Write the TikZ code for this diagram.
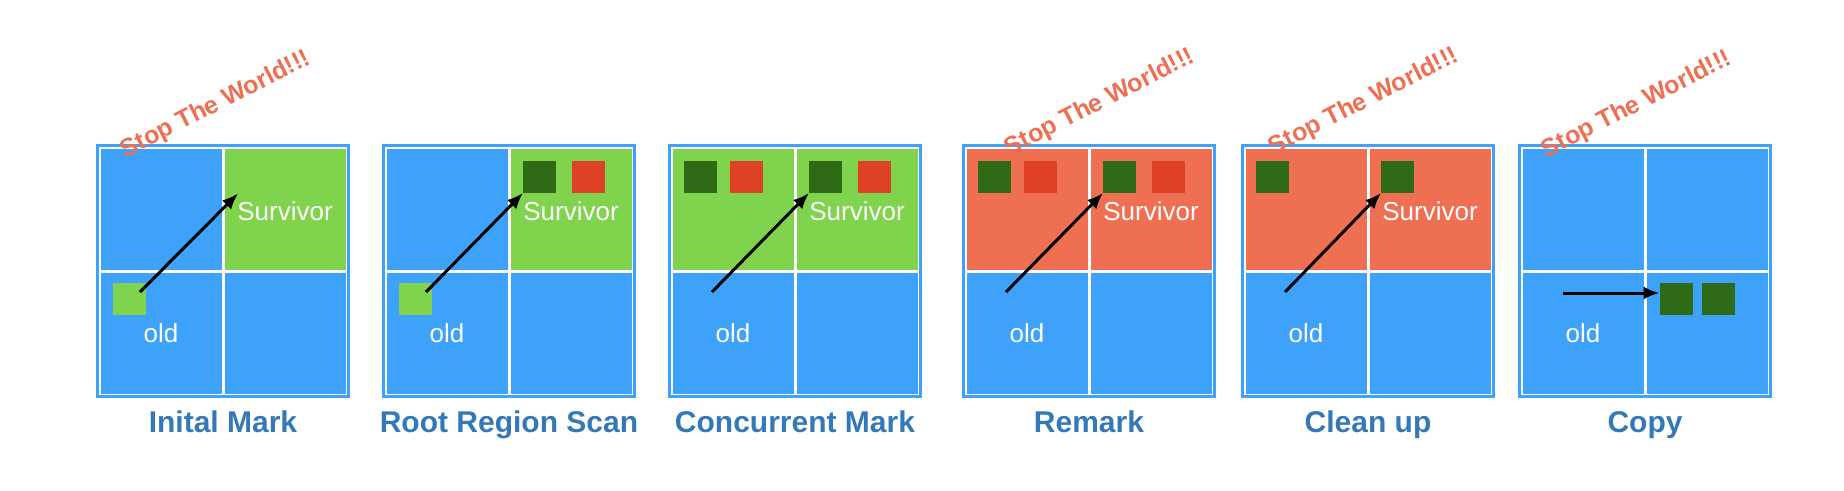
\documentclass[tikz,border=0pt]{standalone}
\usepackage{fontspec}
\setmainfont{Liberation Sans}
\usepackage{tikz}
\usetikzlibrary{arrows.meta, positioning}

\definecolor{regionblue}{HTML}{3EA2FB}
\definecolor{survgreen}{HTML}{80D34C}
\definecolor{livegreen}{HTML}{2F6B17}
\definecolor{deadred}{HTML}{DE4125}
\definecolor{remarkred}{HTML}{EF6F53}
\definecolor{titleblue}{HTML}{3478B8}

\begin{document}
\begin{tikzpicture}[
  x=1pt, y=-1pt,
  every node/.style={inner sep=0pt, outer sep=0pt},
  frame/.style={rectangle, draw=regionblue, line width=3pt, fill=white, minimum size=251pt},
  cell/.style={rectangle, fill=regionblue, minimum size=121pt},
  region text/.style={anchor=base, text=white, font=\fontsize{26}{30}\selectfont},
  obj/.style={rectangle, minimum width=33pt, minimum height=32pt},
  phase label/.style={anchor=base, text=titleblue, font=\fontsize{30}{34}\selectfont\bfseries},
  stw label/.style={text=remarkred, rotate=27, font=\fontsize{25}{30}\selectfont\bfseries},
  ref arrow/.style={draw, -{Latex[length=16pt, width=13pt]}, line width=3pt}
]
\useasboundingbox (0,0) rectangle (1844,490);

% Inital Mark
\begin{scope}[shift={(96,144)}]
  \node[frame] (im) at (127,127) {};
  \node[cell] (im-tl) at (65,65) {};
  \node[cell, fill=survgreen] (im-tr) at (189,65) {};
  \node[cell] (im-bl) at (65,189) {};
  \node[cell] (im-br) at (189,189) {};
  \node[region text] (im-surv) at (189,76) {Survivor};
  \node[region text] (im-old) at (65,198) {old};
  \node[obj, fill=survgreen] (im-src) at (33,154.5) {};
  \coordinate (im-from) at (44,148);
  \coordinate (im-to) at (142,49.5);
  \draw[ref arrow] (im-from) -- (im-to);
  \node[stw label] (im-stw) at (120,-39) {Stop The World!!!};
  \node[phase label] (im-name) at (127,288) {Inital Mark};
\end{scope}

% Root Region Scan
\begin{scope}[shift={(382,144)}]
  \node[frame] (rrs) at (127,127) {};
  \node[cell] (rrs-tl) at (65,65) {};
  \node[cell, fill=survgreen] (rrs-tr) at (189,65) {};
  \node[cell] (rrs-bl) at (65,189) {};
  \node[cell] (rrs-br) at (189,189) {};
  \node[region text] (rrs-surv) at (189,76) {Survivor};
  \node[region text] (rrs-old) at (65,198) {old};
  \node[obj, fill=livegreen] (rrs-live) at (157.5,33) {};
  \node[obj, fill=deadred] (rrs-dead) at (206,33) {};
  \node[obj, fill=survgreen] (rrs-src) at (33,154.5) {};
  \coordinate (rrs-from) at (44,148);
  \draw[ref arrow] (rrs-from) -- (rrs-live.south west);
  \node[phase label] (rrs-name) at (127,288) {Root Region Scan};
\end{scope}

% Concurrent Mark
\begin{scope}[shift={(668,144)}]
  \node[frame] (cm) at (127,127) {};
  \node[cell, fill=survgreen] (cm-tl) at (65,65) {};
  \node[cell, fill=survgreen] (cm-tr) at (189,65) {};
  \node[cell] (cm-bl) at (65,189) {};
  \node[cell] (cm-br) at (189,189) {};
  \node[region text] (cm-surv) at (189,76) {Survivor};
  \node[region text] (cm-old) at (65,198) {old};
  \node[obj, fill=livegreen] (cm-live1) at (32,33) {};
  \node[obj, fill=deadred] (cm-dead1) at (78.5,33) {};
  \node[obj, fill=livegreen] (cm-live2) at (157.5,33) {};
  \node[obj, fill=deadred] (cm-dead2) at (206,33) {};
  \coordinate (cm-from) at (44,148);
  \draw[ref arrow] (cm-from) -- (cm-live2.south west);
  \node[phase label] (cm-name) at (127,288) {Concurrent Mark};
\end{scope}

% Remark
\begin{scope}[shift={(962,144)}]
  \node[frame] (rm) at (127,127) {};
  \node[cell, fill=remarkred] (rm-tl) at (65,65) {};
  \node[cell, fill=remarkred] (rm-tr) at (189,65) {};
  \node[cell] (rm-bl) at (65,189) {};
  \node[cell] (rm-br) at (189,189) {};
  \node[region text] (rm-surv) at (189,76) {Survivor};
  \node[region text] (rm-old) at (65,198) {old};
  \node[obj, fill=livegreen] (rm-live1) at (32,33) {};
  \node[obj, fill=deadred] (rm-dead1) at (78.5,33) {};
  \node[obj, fill=livegreen] (rm-live2) at (157.5,33) {};
  \node[obj, fill=deadred] (rm-dead2) at (206,33) {};
  \coordinate (rm-from) at (44,148);
  \draw[ref arrow] (rm-from) -- (rm-live2.south west);
  \node[stw label] (rm-stw) at (138,-41) {Stop The World!!!};
  \node[phase label] (rm-name) at (127,288) {Remark};
\end{scope}

% Clean up
\begin{scope}[shift={(1241,144)}]
  \node[frame] (cu) at (127,127) {};
  \node[cell, fill=remarkred] (cu-tl) at (65,65) {};
  \node[cell, fill=remarkred] (cu-tr) at (189,65) {};
  \node[cell] (cu-bl) at (65,189) {};
  \node[cell] (cu-br) at (189,189) {};
  \node[region text] (cu-surv) at (189,76) {Survivor};
  \node[region text] (cu-old) at (65,198) {old};
  \node[obj, fill=livegreen] (cu-live1) at (31,33) {};
  \node[obj, fill=livegreen] (cu-live2) at (156.5,33) {};
  \coordinate (cu-from) at (44,148);
  \draw[ref arrow] (cu-from) -- (cu-live2.south west);
  \node[stw label] (cu-stw) at (123,-42) {Stop The World!!!};
  \node[phase label] (cu-name) at (127,288) {Clean up};
\end{scope}

% Copy
\begin{scope}[shift={(1518,144)}]
  \node[frame] (cp) at (127,127) {};
  \node[cell] (cp-tl) at (65,65) {};
  \node[cell] (cp-tr) at (189,65) {};
  \node[cell] (cp-bl) at (65,189) {};
  \node[cell] (cp-br) at (189,189) {};
  \node[region text] (cp-old) at (65,198) {old};
  \node[obj, fill=livegreen] (cp-live1) at (158,154.5) {};
  \node[obj, fill=livegreen] (cp-live2) at (200,154.5) {};
  \coordinate (cp-from) at (45,149);
  \draw[ref arrow] (cp-from) -- (cp-from -| cp-live1.west);
  \node[stw label] (cp-stw) at (119,-39) {Stop The World!!!};
  \node[phase label] (cp-name) at (127,288) {Copy};
\end{scope}
\end{tikzpicture}
\end{document}
